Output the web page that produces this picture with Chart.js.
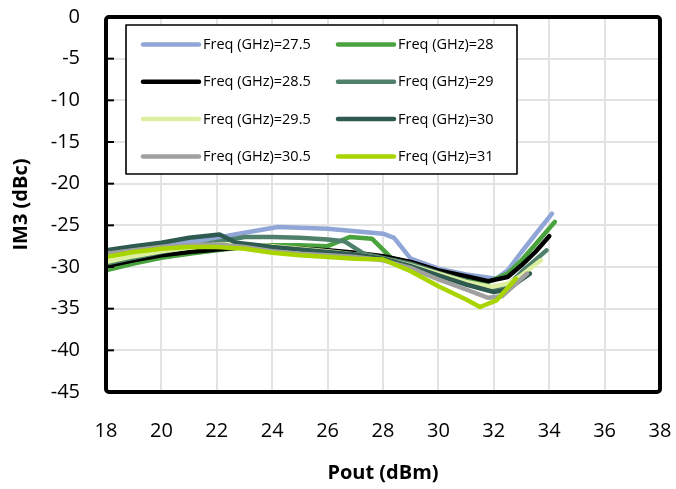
<!DOCTYPE html>
<html>
<head>
<meta charset="utf-8">
<script src="https://cdn.jsdelivr.net/npm/chart.js@4.4.1/dist/chart.umd.min.js"></script>
<style>
html,body{margin:0;padding:0;background:#fff;}
#wrap{width:676px;height:489px;position:relative;}
</style>
</head>
<body>
<div id="wrap"><canvas id="c" width="676" height="489"></canvas></div>
<script>
// ---- Data ----
const seriesLabels = ["Freq (GHz)=27.5","Freq (GHz)=28","Freq (GHz)=28.5","Freq (GHz)=29",
                      "Freq (GHz)=29.5","Freq (GHz)=30","Freq (GHz)=30.5","Freq (GHz)=31"];
const seriesColors = ["#8FA6D6","#4AA23F","#000000","#4F806C","#DDEFA0","#2E5A4F","#A0A0A0","#A8D400"];

const pout_275 = [18, 19, 20, 21, 22, 23, 24.2, 25, 26, 27, 28, 28.4, 29, 30, 31, 32.1, 32.5, 33, 33.5, 34.1];
const im3_275  = [-28.6, -28.0, -27.5, -27.0, -26.5, -25.9, -25.2, -25.3, -25.4, -25.7, -26.0, -26.5, -29.0, -30.2, -30.9, -31.4, -30.4, -28.2, -26.1, -23.6];

const pout_28 = [18, 19, 20, 21, 22, 23, 24, 25, 26, 26.8, 27.6, 28.3, 29, 30, 31, 31.8, 32.5, 33, 33.5, 34.2];
const im3_28  = [-30.4, -29.6, -28.9, -28.4, -28.0, -27.6, -27.4, -27.4, -27.5, -26.4, -26.6, -28.9, -29.5, -30.5, -31.3, -31.8, -30.8, -29.2, -27.3, -24.6];

const pout_285 = [18, 19, 20, 21, 22, 23, 24, 25, 26, 27, 28, 29, 30, 31, 31.8, 32.5, 33, 33.5, 34];
const im3_285  = [-29.9, -29.2, -28.6, -28.2, -27.9, -27.6, -27.6, -27.8, -28.0, -28.3, -28.7, -29.4, -30.4, -31.1, -31.7, -31.2, -29.8, -28.2, -26.3];

const pout_29 = [18, 19, 20, 21, 22, 23, 24, 25, 26, 26.6, 27.3, 28, 29, 30, 31, 32, 32.5, 33, 33.9];
const im3_29  = [-29.6, -28.9, -28.2, -27.6, -27.0, -26.4, -26.4, -26.5, -26.7, -26.9, -28.4, -28.9, -29.6, -30.7, -31.7, -32.5, -32.2, -30.6, -28.0];

const pout_295 = [18, 19, 20, 21, 22, 23, 24, 25, 26, 27, 28, 29, 30, 31, 31.9, 32.5, 33, 33.7];
const im3_295  = [-29.4, -28.7, -28.1, -27.7, -27.3, -27.3, -27.5, -27.8, -28.1, -28.5, -29.0, -29.8, -30.8, -31.8, -32.4, -32.0, -31.0, -29.2];

const pout_30 = [18, 19, 20, 21, 22.1, 22.7, 23.5, 24, 25, 26, 27, 28, 29, 30, 31, 32, 32.5, 33.3];
const im3_30  = [-28.0, -27.5, -27.1, -26.5, -26.1, -27.1, -27.4, -27.6, -27.9, -28.2, -28.5, -29.0, -29.9, -31.0, -32.1, -33.0, -32.7, -30.8];

const pout_305 = [18, 19, 20, 21, 22, 23, 24, 25, 26, 27, 28, 29, 30, 31, 31.8, 32.3, 33.2];
const im3_305  = [-28.4, -28.0, -27.6, -27.4, -27.3, -27.6, -28.1, -28.4, -28.6, -28.8, -29.2, -30.1, -31.5, -32.7, -33.7, -33.5, -30.8];

const pout_31 = [18, 19, 20, 21, 22, 23, 24, 25, 26, 27, 28, 29, 30, 31, 31.5, 32.1, 32.8];
const im3_31  = [-28.8, -28.2, -27.8, -27.6, -27.6, -27.8, -28.3, -28.6, -28.8, -29.0, -29.1, -30.5, -32.3, -33.9, -34.8, -34.0, -31.4];

const xTicksMin = 18, xTicksMax = 38, xStep = 2;
const yTicksMin = -45, yTicksMax = 0, yStep = 5;

// ---- Build datasets ----
const xs = [pout_275, pout_28, pout_285, pout_29, pout_295, pout_30, pout_305, pout_31];
const ys = [im3_275, im3_28, im3_285, im3_29, im3_295, im3_30, im3_305, im3_31];
const datasets = seriesLabels.map((lab, i) => ({
  label: lab,
  data: xs[i].map((x, j) => ({x: x, y: ys[i][j]})),
  borderColor: seriesColors[i],
  backgroundColor: seriesColors[i],
  borderWidth: 4.5,
  pointRadius: 0,
  showLine: true,
  tension: 0,
  borderJoinStyle: 'round',
  borderCapStyle: 'round',
  order: seriesLabels.length - i
}));

// ---- Plugins ----
const framePlugin = {
  id: 'frame',
  afterDatasetsDraw(chart) {
    const {ctx, chartArea: a, scales} = chart;
    ctx.save();
    // inward y tick marks
    ctx.strokeStyle = '#000';
    ctx.lineWidth = 2;
    scales.y.ticks.forEach(t => {
      const py = scales.y.getPixelForValue(t.value);
      ctx.beginPath();
      ctx.moveTo(a.left, py);
      ctx.lineTo(a.left + 8, py);
      ctx.stroke();
    });
    // frame
    ctx.lineWidth = 4;
    ctx.lineJoin = 'round';
    ctx.beginPath();
    ctx.roundRect(a.left, a.top, a.right - a.left, a.bottom - a.top, 3);
    ctx.stroke();

    // legend box
    const bx = 126, by = 25, bw = 391, bh = 149;
    ctx.fillStyle = '#fff';
    ctx.fillRect(bx, by, bw, bh);
    ctx.lineWidth = 1.6;
    ctx.strokeStyle = '#000';
    ctx.strokeRect(bx, by, bw, bh);
    ctx.font = '14.5px "Open Sans", sans-serif';
    ctx.textBaseline = 'middle';
    ctx.textAlign = 'left';
    chart.data.datasets.forEach((ds, i) => {
      const col = i % 2, row = Math.floor(i / 2);
      const lx = col === 0 ? 143 : 338;
      const ly = 44.5 + row * 37.3;
      ctx.strokeStyle = ds.borderColor;
      ctx.lineWidth = 4.5;
      ctx.lineCap = 'round';
      ctx.beginPath();
      ctx.moveTo(lx, ly);
      ctx.lineTo(lx + 56, ly);
      ctx.stroke();
      ctx.fillStyle = '#000';
      ctx.fillText(ds.label, lx + 60, ly + 0.5);
    });
    ctx.restore();
  }
};

new Chart(document.getElementById('c'), {
  type: 'scatter',
  data: { datasets },
  options: {
    responsive: false,
    animation: false,
    devicePixelRatio: 1,
    layout: { padding: { top: 17, right: 16, left: 0, bottom: 0 } },
    plugins: { legend: { display: false }, tooltip: { enabled: false } },
    scales: {
      x: {
        type: 'linear',
        min: xTicksMin, max: xTicksMax,
        afterFit(s) { s.height = 97; s.paddingLeft = 0; s.paddingRight = 0; },
        ticks: { stepSize: xStep, color: '#000', padding: 27, maxRotation: 0,
                 font: { family: '"Open Sans", sans-serif', size: 20 } },
        grid: { color: '#e3e3e3', lineWidth: 2, drawTicks: false },
        border: { display: false },
        title: { display: true, text: 'Pout (dBm)', color: '#000',
                 font: { family: '"Open Sans", sans-serif', size: 20, weight: 'bold' },
                 padding: { top: 0, bottom: 4 } }
      },
      y: {
        type: 'linear',
        min: yTicksMin, max: yTicksMax,
        afterFit(s) { s.width = 106; s.paddingTop = 0; s.paddingBottom = 0; },
        ticks: { stepSize: yStep, color: '#000', padding: 26,
                 font: { family: '"Open Sans", sans-serif', size: 20 } },
        grid: { color: '#e3e3e3', lineWidth: 2, drawTicks: false },
        border: { display: false },
        title: { display: true, text: 'IM3 (dBc)', color: '#000',
                 font: { family: '"Open Sans", sans-serif', size: 20, weight: 'bold' },
                 padding: { top: 9, bottom: 0 } }
      }
    }
  },
  plugins: [framePlugin]
});
</script>
</body>
</html>
